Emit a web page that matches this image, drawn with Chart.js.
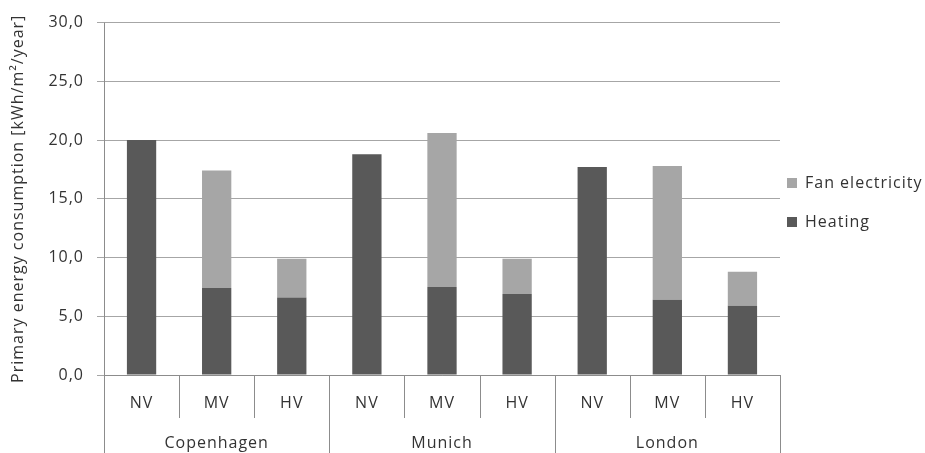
<!DOCTYPE html>
<html>
<head>
<meta charset="utf-8">
<script src="https://cdn.jsdelivr.net/npm/chart.js@4/dist/chart.umd.min.js"></script>
<style>
  html, body { margin: 0; padding: 0; background: #fff; }
  #wrap { width: 925px; height: 453px; }
</style>
</head>
<body>
<div id="wrap"><canvas id="energyChart" width="925" height="453"></canvas></div>
<script>
// ============ DATA ============
const cities = ["Copenhagen", "Munich", "London"];
const ventilation = ["NV", "MV", "HV"];
const heating = [20.0, 7.4, 6.6, 18.8, 7.5, 6.9, 17.7, 6.4, 5.9];
const fanElectricity = [0, 10.0, 3.3, 0, 13.1, 3.0, 0, 11.4, 2.9];
const yTicks = [0, 5, 10, 15, 20, 25, 30];

const labels = [];
cities.forEach(c => ventilation.forEach(v => labels.push(v)));

const FONT = "'Open Sans', 'Noto Sans', sans-serif";
const TEXT = "#333333";
const GRID = "#a6a6a6";
const AXIS = "#8c8c8c";
const SPACING = "1px";

// ============ PLUGIN: wider letter spacing for all text ============
const spacing = {
    id: "spacing",
    beforeDraw(chart) {
        chart.ctx.letterSpacing = SPACING;
    }
};

// ============ PLUGIN: two-level category axis + legend ============
const multiAxis = {
    id: "multiAxis",
    afterDraw(chart) {
        const { ctx, chartArea, scales: { x } } = chart;
        const step = x.getPixelForValue(1) - x.getPixelForValue(0);
        const bottom = chart.height;
        const innerBottom = chartArea.bottom + 43;

        ctx.save();
        ctx.letterSpacing = SPACING;
        ctx.strokeStyle = AXIS;
        ctx.lineWidth = 1;

        // y axis line, running down through the category box
        ctx.beginPath();
        ctx.moveTo(Math.round(chartArea.left) + 0.5, chartArea.top);
        ctx.lineTo(Math.round(chartArea.left) + 0.5, bottom);
        ctx.stroke();

        // separators between categories
        for (let i = 1; i <= labels.length; i++) {
            const px = Math.round(x.getPixelForValue(i) - step / 2) + 0.5;
            const isGroup = i % ventilation.length === 0;
            ctx.beginPath();
            ctx.moveTo(px, chartArea.bottom);
            ctx.lineTo(px, isGroup ? bottom : innerBottom);
            ctx.stroke();
        }

        // labels
        ctx.fillStyle = TEXT;
        ctx.font = "16px " + FONT;
        ctx.textAlign = "center";
        ctx.textBaseline = "middle";
        labels.forEach((lab, i) => {
            ctx.fillText(lab, x.getPixelForValue(i), chartArea.bottom + 28);
        });
        cities.forEach((city, g) => {
            const mid = x.getPixelForValue(g * ventilation.length + 1);
            ctx.fillText(city, mid, chartArea.bottom + 68);
        });

        // legend
        const ds = chart.data.datasets;
        const items = [ds[1], ds[0]];
        ctx.textAlign = "left";
        items.forEach((d, k) => {
            const cy = 183 + k * 39;
            ctx.fillStyle = d.backgroundColor;
            ctx.fillRect(chartArea.right + 7, cy - 5, 10, 10);
            ctx.fillStyle = TEXT;
            ctx.fillText(d.label, chartArea.right + 25, cy);
        });
        ctx.restore();
    }
};

// ============ CHART ============
const ctx = document.getElementById("energyChart").getContext("2d");

new Chart(ctx, {
    type: "bar",
    data: {
        labels,
        datasets: [
            {
                label: "Heating",
                data: heating,
                backgroundColor: "#595959",
                borderWidth: 0
            },
            {
                label: "Fan electricity",
                data: fanElectricity,
                backgroundColor: "#a6a6a6",
                borderWidth: 0
            }
        ]
    },
    options: {
        responsive: false,
        animation: false,
        categoryPercentage: 1,
        barPercentage: 0.39,
        layout: { padding: { top: 22, right: 145, left: 0, bottom: 0 } },
        plugins: {
            legend: { display: false },
            tooltip: { enabled: false }
        },
        scales: {
            x: {
                stacked: true,
                grid: { display: false },
                border: { display: true, color: AXIS },
                ticks: { display: false },
                afterFit(scale) { scale.height = 78; }
            },
            y: {
                stacked: true,
                min: 0,
                max: 30,
                afterBuildTicks(scale) {
                    scale.ticks = yTicks.map(v => ({ value: v }));
                },
                afterFit(scale) { scale.width = 104; },
                grid: { color: GRID, tickLength: 7, tickColor: GRID },
                border: { display: false },
                ticks: {
                    padding: 13,
                    color: TEXT,
                    font: { family: FONT, size: 16 },
                    callback: v => v.toFixed(1).replace(".", ",")
                },
                title: {
                    display: true,
                    text: "Primary energy consumption [kWh/m²/year]",
                    color: TEXT,
                    font: { family: FONT, size: 16 },
                    padding: { top: 9, bottom: 0 }
                }
            }
        }
    },
    plugins: [spacing, multiAxis]
});
</script>
</body>
</html>
